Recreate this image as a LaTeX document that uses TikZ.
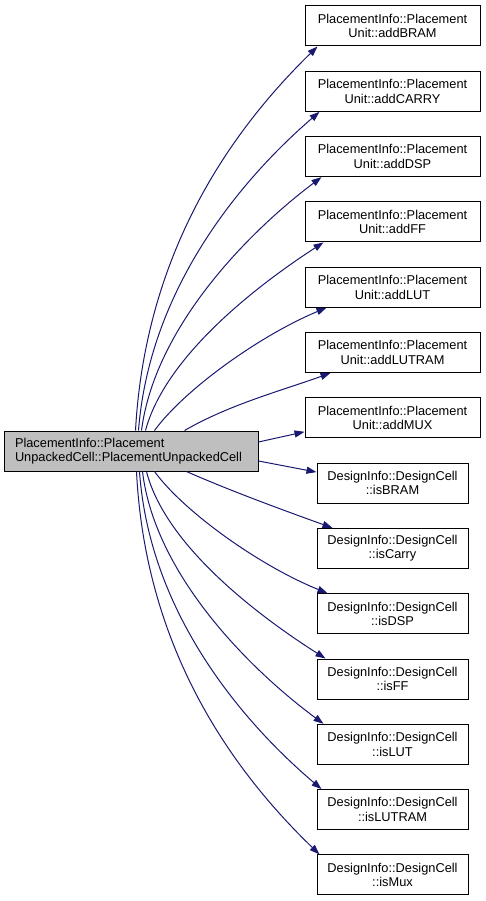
\documentclass[tikz,border=0pt]{standalone}
\usepackage{fontspec}
\setmainfont{Liberation Sans}
\usetikzlibrary{arrows.meta}
\definecolor{edgeblue}{HTML}{191970}
\definecolor{mainfill}{HTML}{BFBFBF}
\begin{document}
\begin{tikzpicture}[x=1pt,y=-1pt,
  every node/.style={font=\fontsize{12.8}{14.5}\selectfont},
  pbox/.style={draw=black,line width=1pt,fill=white,minimum width=175pt,minimum height=40pt,inner sep=0pt,align=center},
  dbox/.style={draw=black,line width=1pt,fill=white,minimum width=151pt,minimum height=40pt,inner sep=0pt,align=center},
  mainbox/.style={draw=black,line width=1pt,fill=mainfill,minimum height=40pt,text width=232pt,inner xsep=11pt,inner ysep=0pt,align=left},
  edge/.style={draw=edgeblue,line width=1pt,-{Triangle[length=10pt,width=7pt]},fill=none},
  edge/.append style={every arrow/.style={fill=edgeblue}}]
\useasboundingbox (0,0) rectangle (485,901);
\node[mainbox] (L) at (131,451) {PlacementInfo::Placement\\UnpackedCell::PlacementUnpackedCell};
\node[pbox] (bram) at (392.5,26) {PlacementInfo::Placement\\Unit::addBRAM};
\node[pbox] (carry) at (392.5,91.3) {PlacementInfo::Placement\\Unit::addCARRY};
\node[pbox] (dsp) at (392.5,156.6) {PlacementInfo::Placement\\Unit::addDSP};
\node[pbox] (ff) at (392.5,221.9) {PlacementInfo::Placement\\Unit::addFF};
\node[pbox] (lut) at (392.5,287.2) {PlacementInfo::Placement\\Unit::addLUT};
\node[pbox] (lutram) at (392.5,352.5) {PlacementInfo::Placement\\Unit::addLUTRAM};
\node[pbox] (mux) at (392.5,417.8) {PlacementInfo::Placement\\Unit::addMUX};
\node[dbox] (isbram) at (392.5,483.1) {DesignInfo::DesignCell\\::isBRAM};
\node[dbox] (iscarry) at (392.5,548.4) {DesignInfo::DesignCell\\::isCarry};
\node[dbox] (isdsp) at (392.5,613.7) {DesignInfo::DesignCell\\::isDSP};
\node[dbox] (isff) at (392.5,679) {DesignInfo::DesignCell\\::isFF};
\node[dbox] (islut) at (392.5,744.3) {DesignInfo::DesignCell\\::isLUT};
\node[dbox] (islutram) at (392.5,809.6) {DesignInfo::DesignCell\\::isLUTRAM};
\node[dbox] (ismux) at (392.5,874.9) {DesignInfo::DesignCell\\::isMux};
% upper edges
\path[edge] ([xshift=132pt]L.north west) .. controls +(10,-181) and +(-84,82) .. ([xshift=13pt]bram.south west);
\path[edge] ([xshift=135pt]L.north west) .. controls +(11,-141) and +(-80,69) .. ([xshift=15pt]carry.south west);
\path[edge] ([xshift=138pt]L.north west) .. controls +(13,-101) and +(-77,58) .. ([xshift=17pt]dsp.south west);
\path[edge] ([xshift=142pt]L.north west) .. controls +(19,-71) and +(-74,48) .. ([xshift=19pt]ff.south west);
\path[edge] ([xshift=151pt]L.north west) .. controls +(30,-41) and +(-67,28) .. ([xshift=22pt]lut.south west);
\path[edge] ([xshift=181pt]L.north west) .. controls +(45,-26) and +(-50,18) .. ([xshift=26pt]lutram.south west);
\path[edge] ([yshift=9pt]L.east) -- ([yshift=-14pt]mux.west);
% lower edges
\path[edge] ([yshift=-10pt]L.east) -- ([yshift=11pt]isbram.west);
\path[edge] ([xshift=183pt]L.south west) .. controls +(43,19) and +(-50,-18) .. ([xshift=16pt]iscarry.north west);
\path[edge] ([xshift=151pt]L.south west) .. controls +(30,41) and +(-67,-27) .. ([xshift=11pt]isdsp.north west);
\path[edge] ([xshift=143pt]L.south west) .. controls +(18,71) and +(-74,-47) .. ([xshift=9pt]isff.north west);
\path[edge] ([xshift=139pt]L.south west) .. controls +(12,101) and +(-77,-57) .. ([xshift=7pt]islut.north west);
\path[edge] ([xshift=136pt]L.south west) .. controls +(10,141) and +(-80,-68) .. ([xshift=5pt]islutram.north west);
\path[edge] ([xshift=133pt]L.south west) .. controls +(9,181) and +(-84,-81) .. ([xshift=3pt]ismux.north west);
\end{tikzpicture}
\end{document}
